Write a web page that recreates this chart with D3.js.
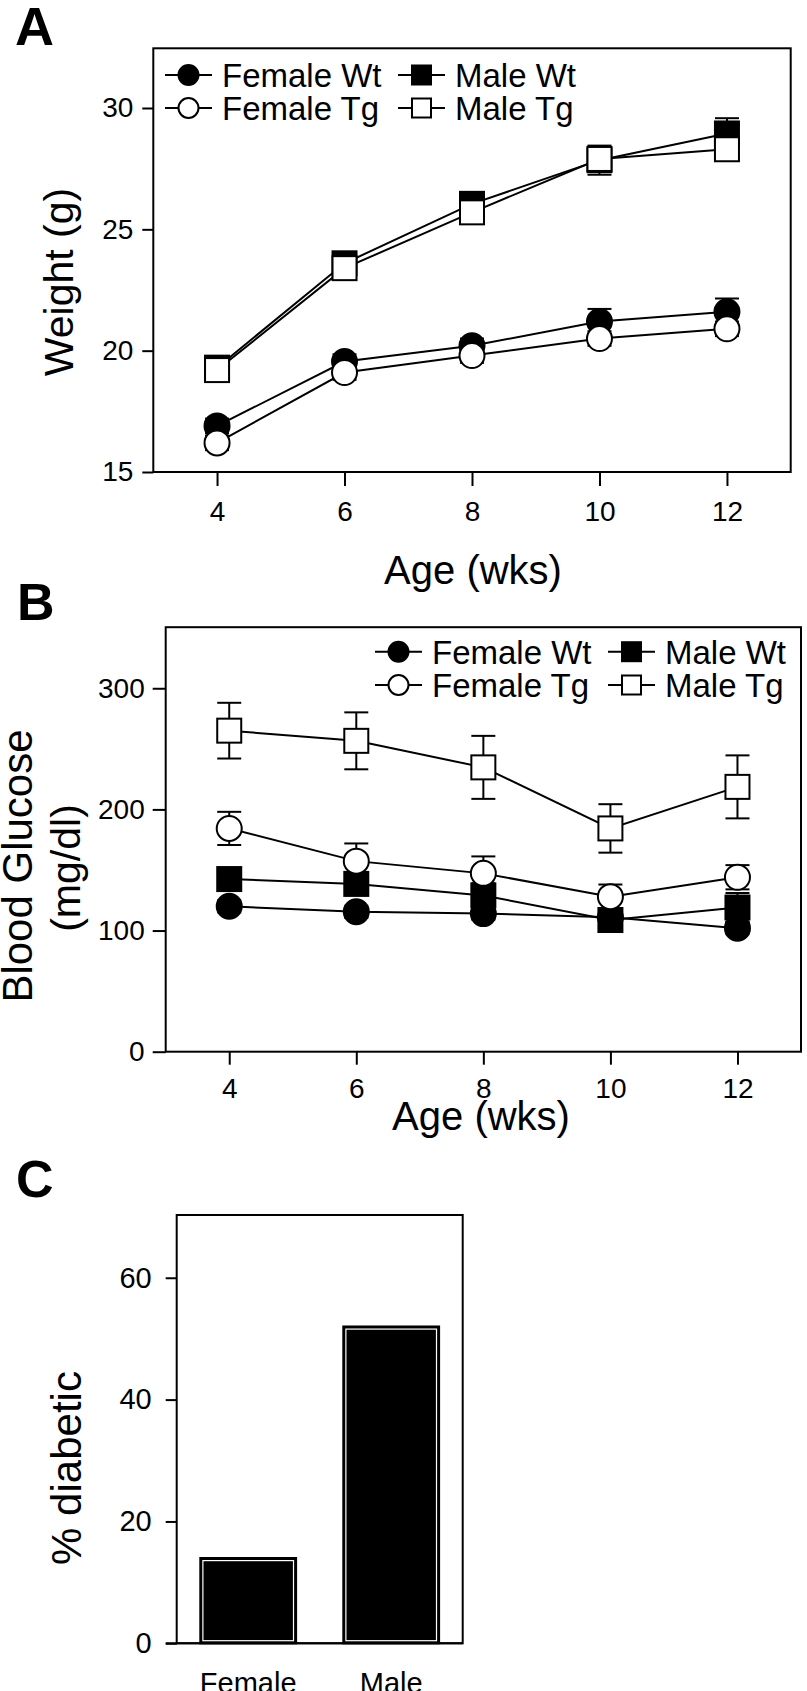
<!DOCTYPE html>
<html>
<head>
<meta charset="utf-8">
<script src="https://cdn.jsdelivr.net/npm/d3@7"></script>
<style>
  html, body { margin: 0; padding: 0; background: #fff; }
  svg { display: block; }
  text { font-family: "Liberation Sans", Arial, Helvetica, sans-serif; fill: #000; }
</style>
</head>
<body>
<script>
// ---------------- DATA ----------------
const ages = [4, 6, 8, 10, 12];
const seriesNames = ["Female Wt", "Male Wt", "Female Tg", "Male Tg"];

// Panel A: body weight (g)
const weightFemaleWt    = [16.9, 19.55, 20.2, 21.2, 21.6];
const weightFemaleWtErr = [0.3, 0.3, 0.3, 0.52, 0.55];
const weightMaleWt      = [19.3, 23.6, 26.05, 27.85, 28.95];
const weightMaleWtErr   = [0.3, 0.4, 0.4, 0.6, 0.63];
const weightFemaleTg    = [16.2, 19.1, 19.8, 20.5, 20.9];
const weightFemaleTgErr = [0.3, 0.3, 0.3, 0.3, 0.3];
const weightMaleTg      = [19.2, 23.4, 25.7, 27.9, 28.3];
const weightMaleTgErr   = [0.3, 0.3, 0.3, 0.5, 0.4];
const weightTicks = [15, 20, 25, 30];

// Panel B: blood glucose (mg/dl)
const glucoseFemaleWt    = [120, 115.5, 114, 111, 102];
const glucoseFemaleWtErr = [5, 5, 5, 5, 5];
const glucoseMaleWt      = [142.5, 138.5, 129, 108.7, 119];
const glucoseMaleWtErr   = [8, 8, 10, 8, 12];
const glucoseFemaleTg    = [184.3, 157.3, 147.2, 128, 144];
const glucoseFemaleTgErr = [13.7, 14.6, 14, 10, 10];
const glucoseMaleTg      = [265, 256.6, 234.7, 184.3, 218.6];
const glucoseMaleTgErr   = [23, 23.5, 26, 20, 26];
const glucoseTicks = [0, 100, 200, 300];

// Panel C: % diabetic
const groups = ["Female", "Male"];
const diabetic = [14, 52];
const diabeticTicks = [0, 20, 40, 60];

// marker style per series: [shape, fill]
const seriesStyle = {
  "Female Wt": ["circle", "#000"],
  "Male Wt":   ["square", "#000"],
  "Female Tg": ["circle", "#fff"],
  "Male Tg":   ["square", "#fff"]
};

// ---------------- DRAW ----------------
const W = 807, H = 1691;
const svg = d3.select("body").append("svg").attr("width", W).attr("height", H);
svg.append("rect").attr("width", W).attr("height", H).attr("fill", "#fff");

function marker(g, shape, fill, cx, cy, size) {
  if (shape === "circle") {
    g.append("circle").attr("cx", cx).attr("cy", cy).attr("r", size / 2)
      .attr("fill", fill).attr("stroke", "#000").attr("stroke-width", 2);
  } else {
    g.append("rect").attr("x", cx - size / 2).attr("y", cy - size / 2)
      .attr("width", size).attr("height", size)
      .attr("fill", fill).attr("stroke", "#000").attr("stroke-width", 2);
  }
}

function styleAxis(g, fontSize) {
  g.select(".domain").remove();
  g.selectAll(".tick line").attr("stroke", "#000").attr("stroke-width", 2);
  g.selectAll(".tick text").attr("font-size", fontSize)
    .attr("font-family", '"Liberation Sans", Arial, sans-serif').attr("fill", "#000");
}

function linePanel(cfg) {
  const g = svg.append("g");
  const x = cfg.x, y = cfg.y;
  const [x0, x1] = x.range();
  const [yb, yt] = y.range();
  // frame
  g.append("rect").attr("x", x0).attr("y", yt).attr("width", x1 - x0).attr("height", yb - yt)
    .attr("fill", "none").attr("stroke", "#000").attr("stroke-width", 2);
  // axes
  const ay = g.append("g").attr("transform", `translate(${x0},0)`)
    .call(d3.axisLeft(y).tickValues(cfg.yTicks).tickSize(cfg.yTickSize).tickPadding(cfg.yPad).tickFormat(d3.format("d")));
  styleAxis(ay, 28);
  const ax = g.append("g").attr("transform", `translate(0,${yb})`)
    .call(d3.axisBottom(x).tickValues(ages).tickSize(cfg.xTickSize).tickPadding(cfg.xPad).tickFormat(d3.format("d")));
  styleAxis(ax, 28);

  const line = d3.line().x((d, i) => x(ages[i])).y(d => y(d));
  cfg.series.forEach(s => {
    const [shape, fill] = seriesStyle[s.name];
    const sg = g.append("g");
    sg.append("path").attr("d", line(s.values)).attr("fill", "none")
      .attr("stroke", "#000").attr("stroke-width", 2);
    s.values.forEach((v, i) => {
      const cx = x(ages[i]);
      const e = s.err[i];
      sg.append("line").attr("x1", cx).attr("x2", cx).attr("y1", y(v - e)).attr("y2", y(v + e))
        .attr("stroke", "#000").attr("stroke-width", 2);
      [v - e, v + e].forEach(ev => {
        sg.append("line").attr("x1", cx - 12).attr("x2", cx + 12).attr("y1", y(ev)).attr("y2", y(ev))
          .attr("stroke", "#000").attr("stroke-width", 2);
      });
    });
    s.values.forEach((v, i) => {
      marker(sg, shape, fill, x(ages[i]), y(v), shape === "circle" ? 25 : 24);
    });
  });

  // legend
  const L = cfg.legend;
  const cols = [["Female Wt", "Female Tg"], ["Male Wt", "Male Tg"]];
  cols.forEach((col, ci) => {
    col.forEach((name, ri) => {
      const lx = L.cols[ci], ly = L.rows[ri];
      const [shape, fill] = seriesStyle[name];
      g.append("line").attr("x1", lx).attr("x2", lx + 47).attr("y1", ly).attr("y2", ly)
        .attr("stroke", "#000").attr("stroke-width", 2);
      marker(g, shape, fill, lx + 23.5, ly, shape === "circle" ? 20 : 19);
      g.append("text").attr("x", lx + 57).attr("y", ly + 12).attr("font-size", 33).text(name);
    });
  });

  // axis titles
  g.append("text").attr("x", cfg.xTitle[0]).attr("y", cfg.xTitle[1]).attr("font-size", 40)
    .attr("text-anchor", "middle").text("Age (wks)");
  cfg.yTitle.forEach(t => {
    g.append("text").attr("transform", `translate(${t.x},${t.y}) rotate(-90)`)
      .attr("font-size", t.size).attr("text-anchor", "middle").text(t.text);
  });
}

// Panel letters
[["A", 15, 45, 54], ["B", 17, 620, 52], ["C", 16, 1197, 52]].forEach(([t, lx, ly, fs]) => {
  svg.append("text").attr("x", lx).attr("y", ly).attr("font-size", fs).attr("font-weight", "bold").text(t);
});

// Panel A
const xA = d3.scaleLinear().domain([3, 13]).range([153.3, 790.7]);
const yA = d3.scaleLinear().domain([15, 32.46]).range([472, 48.3]);
linePanel({
  x: xA, y: yA, yTicks: weightTicks, yTickSize: 11, yPad: 9, xTickSize: 14, xPad: 15,
  series: [
    { name: "Female Wt", values: weightFemaleWt, err: weightFemaleWtErr },
    { name: "Male Wt", values: weightMaleWt, err: weightMaleWtErr },
    { name: "Female Tg", values: weightFemaleTg, err: weightFemaleTgErr },
    { name: "Male Tg", values: weightMaleTg, err: weightMaleTgErr }
  ],
  legend: { cols: [165, 398], rows: [75, 108] },
  xTitle: [473, 584],
  yTitle: [{ text: "Weight (g)", x: 73, y: 282, size: 41 }]
});

// Panel B
const xB = d3.scaleLinear().domain([3, 13]).range([165.7, 801]);
const yB = d3.scaleLinear().domain([0, 350.4]).range([1051.7, 627.2]);
linePanel({
  x: xB, y: yB, yTicks: glucoseTicks, yTickSize: 13, yPad: 8, xTickSize: 13, xPad: 13,
  series: [
    { name: "Female Wt", values: glucoseFemaleWt, err: glucoseFemaleWtErr },
    { name: "Male Wt", values: glucoseMaleWt, err: glucoseMaleWtErr },
    { name: "Female Tg", values: glucoseFemaleTg, err: glucoseFemaleTgErr },
    { name: "Male Tg", values: glucoseMaleTg, err: glucoseMaleTgErr }
  ],
  legend: { cols: [375, 608], rows: [651.7, 685] },
  xTitle: [481, 1130],
  yTitle: [
    { text: "Blood Glucose", x: 32, y: 866, size: 42 },
    { text: "(mg/dl)", x: 80, y: 868, size: 41 }
  ]
});

// Panel C
const xC = d3.scaleBand().domain(groups).range([176.7, 462.7]).paddingInner(0.33).paddingOuter(0.165);
const yC = d3.scaleLinear().domain([0, 70.3]).range([1643.3, 1215]);
const gC = svg.append("g");
gC.append("rect").attr("x", 176.7).attr("y", 1215).attr("width", 462.7 - 176.7).attr("height", 1643.3 - 1215)
  .attr("fill", "none").attr("stroke", "#000").attr("stroke-width", 2);
const ayC = gC.append("g").attr("transform", "translate(176.7,0)")
  .call(d3.axisLeft(yC).tickValues(diabeticTicks).tickSize(11).tickPadding(14).tickFormat(d3.format("d")));
styleAxis(ayC, 29);
groups.forEach((grp, i) => {
  const bx = xC(grp), bw = xC.bandwidth(), by = yC(diabetic[i]), bh = yC(0) - yC(diabetic[i]);
  gC.append("rect").attr("x", bx).attr("y", by).attr("width", bw).attr("height", bh)
    .attr("fill", "#000").attr("stroke", "#000").attr("stroke-width", 2);
  gC.append("rect").attr("x", bx + 2.6).attr("y", by + 2.6).attr("width", bw - 5.2).attr("height", bh - 5.2)
    .attr("fill", "none").attr("stroke", "#fff").attr("stroke-width", 1.2);
  gC.append("text").attr("x", bx + bw / 2).attr("y", 1693).attr("font-size", 29)
    .attr("text-anchor", "middle").text(grp);
});
// redraw axis baseline over bars
gC.append("line").attr("x1", 165.7).attr("x2", 462.7).attr("y1", yC(0)).attr("y2", yC(0))
  .attr("stroke", "#000").attr("stroke-width", 2);
gC.append("text").attr("transform", "translate(81,1468) rotate(-90)")
  .attr("font-size", 42).attr("text-anchor", "middle").text("% diabetic");
</script>
</body>
</html>
